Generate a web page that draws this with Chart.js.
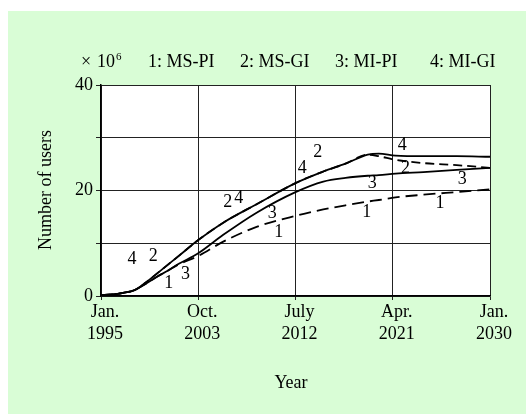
<!DOCTYPE html>
<html>
<head>
<meta charset="utf-8">
<script src="https://cdn.jsdelivr.net/npm/chart.js@4/dist/chart.umd.min.js"></script>
<style>
  html, body { margin: 0; padding: 0; background: #fff; }
  #wrap { width: 526px; height: 415px; }
</style>
</head>
<body>
<div id="wrap"><canvas id="chart" width="526" height="415"></canvas></div>
<script>
// values (millions of users)
const years = [1995, 1996, 1997, 1998, 1999, 2000, 2001, 2002, 2003.75, 2006, 2009, 2012.5, 2015, 2017, 2019, 2020, 2021.5, 2024, 2027, 2030];
const msPi = [0.2, 0.3, 0.6, 1.1, 2.3, 3.6, 4.8, 6.0, 7.6, 10.3, 13.1, 15.2, 16.4, 17.2, 17.9, 18.2, 18.7, 19.2, 19.7, 20.2];
const msGi = [0.2, 0.3, 0.6, 1.1, 2.5, 4.2, 5.9, 7.6, 10.6, 13.9, 17.4, 21.4, 23.6, 25.1, 26.8, 26.5, 25.8, 25.2, 24.8, 24.3];
const miPi = [0.2, 0.3, 0.6, 1.1, 2.3, 3.6, 4.8, 6.1, 8.1, 11.6, 15.8, 19.7, 21.7, 22.4, 22.8, 22.9, 23.2, 23.5, 23.9, 24.3];
const miGi = [0.2, 0.3, 0.6, 1.1, 2.5, 4.2, 5.9, 7.6, 10.6, 13.9, 17.4, 21.4, 23.6, 25.1, 26.8, 27.0, 26.6, 26.5, 26.5, 26.4];

const tickYears = [1995, 2003.75, 2012.5, 2021.25, 2030];
const tickMonths = ["Jan.", "Oct.", "July", "Apr.", "Jan."];
const tickYearText = ["1995", "2003", "2012", "2021", "2030"];
const yTicks = [0, 10, 20, 30, 40];
const yLabelled = [0, 20, 40];

const legendTexts = ["1: MS-PI", "2: MS-GI", "3: MI-PI", "4: MI-GI"];

// curve number tags, in data units
const tagText = ["4", "2", "1", "3", "2", "4", "3", "1", "4", "2", "3", "1", "4", "2", "3", "1"];
const tagYear = [1997.8, 1999.7, 2001.1, 2002.6, 2006.4, 2007.4, 2010.4, 2011.0, 2013.1, 2014.5, 2019.4, 2018.9, 2022.1, 2022.4, 2027.5, 2025.5];
const tagValue = [7.0, 7.5, 2.5, 4.2, 17.7, 18.5, 15.7, 12.1, 24.3, 27.2, 21.3, 15.8, 28.5, 24.3, 22.1, 17.5];

const serif = "'Liberation Serif', 'Times New Roman', serif";

function points(values) {
  return years.map((yr, i) => ({ x: yr, y: values[i] }));
}

function lineSet(label, values, dash) {
  return {
    label,
    data: points(values),
    borderColor: "#000",
    borderWidth: 1.8,
    borderDash: dash,
    pointRadius: 0,
    fill: false,
    cubicInterpolationMode: "monotone",
  };
}

const decorPlugin = {
  id: "decor",
  beforeDraw(chart) {
    const { ctx, chartArea } = chart;
    ctx.save();
    ctx.fillStyle = "#d9fdd6";
    ctx.fillRect(8, 11, 518, 403);
    ctx.fillStyle = "#fff";
    ctx.fillRect(chartArea.left, chartArea.top, chartArea.right - chartArea.left, chartArea.bottom - chartArea.top);
    ctx.restore();
  },
  afterDraw(chart) {
    const { ctx, scales } = chart;
    ctx.save();
    ctx.fillStyle = "#000";

    // header: unit and series names
    ctx.font = `18px ${serif}`;
    ctx.textBaseline = "alphabetic";
    ctx.textAlign = "left";
    ctx.fillText("\u00d7", 81, 67);
    ctx.fillText("10", 97, 67);
    ctx.font = `11px ${serif}`;
    ctx.fillText("6", 116, 60);
    ctx.font = `18px ${serif}`;
    const legendX = [148, 240, 335, 430];
    legendTexts.forEach((t, i) => ctx.fillText(t, legendX[i], 67));

    // axis titles
    ctx.textAlign = "center";
    ctx.textBaseline = "middle";
    ctx.fillText("Year", 291, 383);
    ctx.save();
    ctx.translate(46, 190);
    ctx.rotate(-Math.PI / 2);
    ctx.fillText("Number of users", 0, 0);
    ctx.restore();

    // curve number tags
    ctx.font = `18px ${serif}`;
    tagText.forEach((t, i) => {
      ctx.fillText(t, scales.x.getPixelForValue(tagYear[i]), scales.y.getPixelForValue(tagValue[i]));
    });
    ctx.restore();
  },
};

new Chart(document.getElementById("chart"), {
  type: "line",
  data: {
    datasets: [
      lineSet("MS-PI", msPi, [12, 6]),
      lineSet("MS-GI", msGi, [9, 5]),
      lineSet("MI-PI", miPi, []),
      lineSet("MI-GI", miGi, []),
    ],
  },
  options: {
    responsive: false,
    animation: false,
    devicePixelRatio: 1,
    layout: { padding: { top: 85, right: 36, left: 0, bottom: 0 } },
    plugins: {
      legend: { display: false },
      tooltip: { enabled: false },
    },
    scales: {
      x: {
        type: "linear",
        min: 1995,
        max: 2030,
        afterBuildTicks: (scale) => {
          scale.ticks = tickYears.map((v) => ({ value: v }));
        },
        afterFit: (scale) => {
          scale.height = 119;
        },
        ticks: {
          autoSkip: false,
          maxRotation: 0,
          padding: 1,
          labelOffset: 4,
          color: "#000",
          font: { family: serif, size: 18, lineHeight: 1.22 },
          callback: (value, index) => [tickMonths[index], tickYearText[index]],
        },
        grid: { color: "#222", lineWidth: 1, tickLength: 4 },
        border: { color: "#000", width: 1.5 },
      },
      y: {
        min: 0,
        max: 40,
        afterBuildTicks: (scale) => {
          scale.ticks = yTicks.map((v) => ({ value: v }));
        },
        afterFit: (scale) => {
          scale.width = 101;
        },
        ticks: {
          padding: 3,
          color: "#000",
          font: { family: serif, size: 18 },
          callback: (value) => (yLabelled.includes(value) ? value : ""),
        },
        grid: { color: "#222", lineWidth: 1, tickLength: 5 },
        border: { color: "#000", width: 1.5 },
      },
    },
  },
  plugins: [decorPlugin],
});
</script>
</body>
</html>
